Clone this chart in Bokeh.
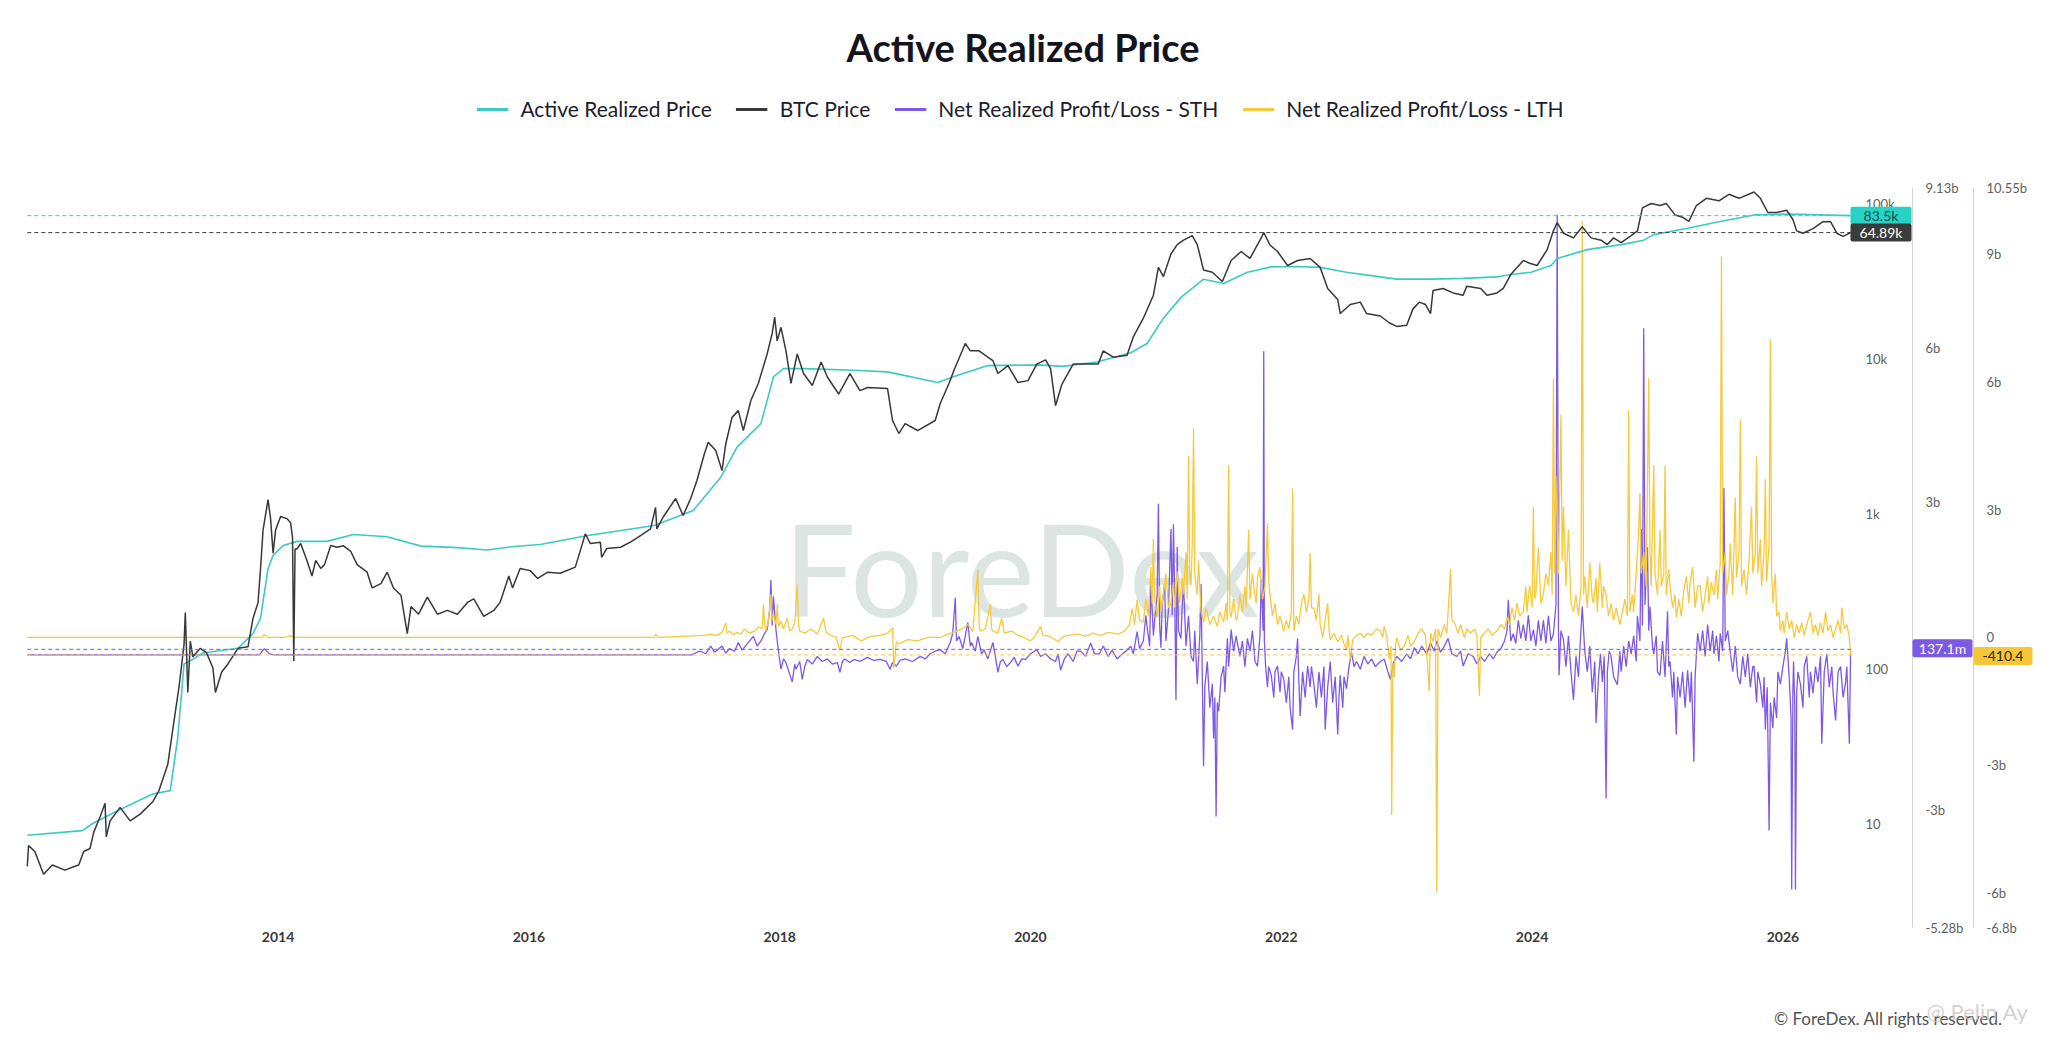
import math
from bokeh.plotting import figure
from bokeh.models import (Range1d, LinearAxis, LinearScale, FixedTicker, Label, Legend, LegendItem,
                          BoxAnnotation)
from bokeh.embed import file_html
from bokeh.resources import INLINE

# ---------------- data ----------------
btc = [(2012.00, 5.3), (2012.01, 7.2), (2012.06, 6.6), (2012.13, 4.7), (2012.20, 5.4), (2012.30, 5.0),
       (2012.38, 5.3), (2012.41, 5.4), (2012.45, 6.6), (2012.50, 6.9), (2012.53, 8.8), (2012.58, 11),
       (2012.62, 13.5), (2012.63, 8.2), (2012.66, 10.4), (2012.74, 12.7), (2012.82, 10.4), (2012.90, 11.5),
       (2013.00, 13.8), (2013.05, 16.3), (2013.12, 24), (2013.17, 46), (2013.21, 76), (2013.25, 143),
       (2013.26, 230), (2013.28, 70), (2013.30, 150), (2013.32, 119), (2013.38, 135), (2013.43, 126),
       (2013.48, 101), (2013.50, 70), (2013.55, 95), (2013.60, 107), (2013.68, 135), (2013.76, 138),
       (2013.80, 211), (2013.84, 266), (2013.86, 442), (2013.88, 782), (2013.92, 1230), (2013.94, 927),
       (2013.96, 555), (2013.98, 782),
       (2014.02, 956), (2014.07, 927), (2014.10, 870), (2014.115, 700), (2014.125, 112), (2014.135, 590),
       (2014.15, 590), (2014.18, 640), (2014.23, 498), (2014.27, 395), (2014.30, 498), (2014.34, 442),
       (2014.37, 468), (2014.42, 622), (2014.47, 605), (2014.52, 620), (2014.58, 569), (2014.63, 468),
       (2014.71, 418), (2014.75, 331), (2014.82, 353), (2014.87, 418), (2014.92, 331), (2014.98, 297),
       (2015.03, 168), (2015.06, 251), (2015.12, 224), (2015.19, 289), (2015.27, 224), (2015.35, 237),
       (2015.43, 224), (2015.51, 267), (2015.56, 281), (2015.64, 217), (2015.72, 237), (2015.77, 267),
       (2015.84, 395), (2015.87, 331), (2015.93, 442),
       (2016.01, 428), (2016.07, 381), (2016.15, 418), (2016.25, 412), (2016.37, 451), (2016.41, 576),
       (2016.45, 740), (2016.49, 640), (2016.57, 653), (2016.58, 522), (2016.62, 594), (2016.73, 606),
       (2016.81, 653), (2016.89, 721), (2016.97, 795),
       (2017.01, 1095), (2017.02, 795), (2017.07, 946), (2017.17, 1250), (2017.23, 970), (2017.29, 1250),
       (2017.34, 1633), (2017.40, 2440), (2017.43, 2880), (2017.49, 2550), (2017.54, 1890), (2017.57, 2820),
       (2017.62, 4170), (2017.67, 4610), (2017.71, 3430), (2017.77, 5360), (2017.83, 6920), (2017.90, 10700),
       (2017.94, 14500), (2017.96, 18500), (2017.98, 13000),
       (2018.01, 15900), (2018.05, 11200), (2018.09, 6920), (2018.14, 10700), (2018.19, 8000), (2018.26, 6700),
       (2018.33, 9500), (2018.38, 7600), (2018.47, 5900), (2018.56, 8000), (2018.64, 6200), (2018.70, 6500),
       (2018.86, 6400), (2018.90, 3980), (2018.95, 3280),
       (2019.00, 3800), (2019.10, 3430), (2019.24, 3980), (2019.28, 5130), (2019.35, 6900), (2019.39, 8400),
       (2019.48, 12500), (2019.52, 11200), (2019.59, 11200), (2019.66, 10200), (2019.70, 9700), (2019.74, 8000),
       (2019.82, 9000), (2019.90, 7000), (2019.98, 7200),
       (2020.05, 9200), (2020.12, 9800), (2020.16, 8600), (2020.20, 4970), (2020.25, 6800), (2020.34, 9200),
       (2020.45, 9200), (2020.54, 9200), (2020.58, 11200), (2020.66, 10200), (2020.77, 10500), (2020.82, 13800),
       (2020.90, 18200), (2020.98, 25600),
       (2021.02, 38700), (2021.06, 33800), (2021.12, 47200), (2021.17, 54300), (2021.22, 58000), (2021.29, 62000),
       (2021.33, 54300), (2021.38, 37200), (2021.45, 36000), (2021.53, 31400), (2021.60, 42900), (2021.68, 49000),
       (2021.75, 44200), (2021.84, 60000), (2021.86, 65000), (2021.91, 54000), (2021.97, 49000),
       (2022.05, 39800), (2022.13, 42900), (2022.23, 44200), (2022.31, 38700), (2022.37, 28300), (2022.45, 24000),
       (2022.47, 19500), (2022.55, 22300), (2022.63, 23100), (2022.68, 19500), (2022.79, 18800), (2022.86, 17000),
       (2022.92, 16100),
       (2023.00, 16400), (2023.05, 20900), (2023.10, 23100), (2023.15, 22300), (2023.19, 19500), (2023.21, 27500),
       (2023.29, 28300), (2023.37, 26500), (2023.45, 25600), (2023.48, 29300), (2023.59, 28300), (2023.64, 25600),
       (2023.72, 26500), (2023.77, 28300), (2023.83, 34800), (2023.93, 42900), (2023.98, 41200),
       (2024.04, 39800), (2024.12, 50400), (2024.17, 66600), (2024.20, 75400), (2024.25, 64300), (2024.33, 60000),
       (2024.40, 70800), (2024.47, 60000), (2024.55, 58000), (2024.60, 54300), (2024.65, 60000), (2024.71, 56000),
       (2024.79, 62000), (2024.84, 66600), (2024.88, 93600), (2024.95, 100000),
       (2025.02, 97000), (2025.07, 100000), (2025.14, 84400), (2025.20, 81600), (2025.25, 76600), (2025.31, 97000),
       (2025.39, 108000), (2025.49, 104000), (2025.57, 114700), (2025.65, 108000), (2025.77, 118600),
       (2025.82, 108000), (2025.88, 87500), (2025.95, 87500),
       (2026.03, 90400), (2026.08, 78900), (2026.11, 66600), (2026.16, 64300), (2026.24, 68800), (2026.32, 76300),
       (2026.38, 76300), (2026.43, 64300), (2026.48, 61300), (2026.54, 64890)]

active_realized = [(2012.00, 8.4), (2012.44, 9.0), (2012.52, 10), (2012.74, 12.3), (2013.00, 15.5), (2013.14, 16.3),
                   (2013.20, 36), (2013.25, 107), (2013.30, 112), (2013.40, 126), (2013.68, 135), (2013.80, 168),
                   (2013.86, 211), (2013.92, 442), (2013.96, 537), (2014.04, 622), (2014.15, 661), (2014.39, 661),
                   (2014.60, 732), (2014.87, 708), (2015.14, 616), (2015.40, 605), (2015.67, 582), (2015.88, 612),
                   (2016.09, 631), (2016.47, 721), (2017.00, 837), (2017.31, 1047), (2017.53, 1713), (2017.66, 2680),
                   (2017.85, 3800), (2017.95, 7600), (2018.03, 8600), (2018.19, 8600), (2018.59, 8400), (2018.86, 8200),
                   (2019.26, 7000), (2019.39, 7650), (2019.66, 9000), (2020.07, 9100), (2020.26, 8900), (2020.53, 9500),
                   (2020.80, 10900), (2020.93, 12500), (2021.06, 18200), (2021.20, 24800), (2021.38, 32500),
                   (2021.54, 30500), (2021.73, 36000), (2021.92, 39000), (2022.13, 39200), (2022.31, 38700),
                   (2022.52, 36000), (2022.79, 33600), (2022.92, 32500), (2023.19, 32500), (2023.45, 32900),
                   (2023.72, 33600), (2023.83, 34800), (2023.99, 36000), (2024.15, 39800), (2024.20, 44200),
                   (2024.44, 50400), (2024.71, 54300), (2024.89, 58000), (2024.97, 63000), (2025.23, 69000),
                   (2025.49, 76300), (2025.77, 84400), (2026.03, 85500), (2026.30, 84400), (2026.54, 83500)]

# Net Realized Profit/Loss, short-term holders (billions USD)
nrpl_sth = [
    (2012.00, 0.03), (2013.85, 0.03), (2013.89, 0.15), (2013.93, 0.05), (2013.97, 0.03), (2017.30, 0.03),
    (2017.34, 0.08), (2017.37, 0.10), (2017.41, 0.05), (2017.45, 0.20), (2017.48, 0.08), (2017.50, 0.12),
    (2017.54, 0.20), (2017.57, 0.06), (2017.60, 0.15), (2017.64, 0.10), (2017.67, 0.27), (2017.70, 0.12),
    (2017.72, 0.18), (2017.76, 0.30), (2017.79, 0.39), (2017.82, 0.20), (2017.85, 0.30), (2017.88, 0.45),
    (2017.90, 0.52), (2017.92, 0.90), (2017.93, 1.49), (2017.94, 0.60), (2017.95, 1.17), (2017.97, 0.52),
    (2017.99, 0.10), (2018.01, -0.25), (2018.03, -0.05), (2018.05, -0.12), (2018.08, -0.35), (2018.10, -0.50),
    (2018.12, -0.15), (2018.13, -0.25), (2018.16, -0.10), (2018.18, -0.45), (2018.20, -0.20), (2018.22, -0.06),
    (2018.26, -0.15), (2018.30, 0.00), (2018.34, -0.10), (2018.38, -0.05), (2018.42, -0.15), (2018.46, -0.12),
    (2018.48, -0.31), (2018.50, -0.10), (2018.52, -0.05), (2018.56, -0.12), (2018.59, -0.06), (2018.64, -0.10),
    (2018.70, -0.02), (2018.75, -0.08), (2018.80, -0.06), (2018.85, -0.10), (2018.88, -0.25), (2018.90, -0.12),
    (2018.93, -0.19), (2018.96, -0.08), (2019.00, -0.05), (2019.06, -0.10), (2019.12, 0.00), (2019.16, -0.05),
    (2019.20, 0.05), (2019.24, 0.10), (2019.28, 0.13), (2019.32, 0.05), (2019.36, 0.27), (2019.38, 0.45),
    (2019.40, 1.14), (2019.41, 0.30), (2019.43, 0.39), (2019.46, 0.15), (2019.48, 0.40), (2019.50, 0.66),
    (2019.52, 0.20), (2019.53, 0.27), (2019.56, 0.10), (2019.58, 0.39), (2019.61, 0.05), (2019.63, 0.13),
    (2019.66, -0.05), (2019.70, 0.27), (2019.72, 0.00), (2019.74, -0.31), (2019.76, -0.10), (2019.78, -0.06),
    (2019.81, -0.20), (2019.84, -0.12), (2019.87, -0.02), (2019.90, -0.19), (2019.93, -0.05), (2019.96, -0.06),
    (2020.00, 0.05), (2020.05, 0.13), (2020.08, 0.00), (2020.12, 0.05), (2020.16, -0.05), (2020.20, -0.10),
    (2020.22, 0.05), (2020.24, -0.27), (2020.27, -0.05), (2020.30, 0.05), (2020.34, -0.10), (2020.37, 0.10),
    (2020.40, 0.10), (2020.44, 0.00), (2020.48, 0.26), (2020.51, 0.05), (2020.55, 0.05), (2020.58, 0.20),
    (2020.62, 0.00), (2020.65, 0.12), (2020.69, -0.05), (2020.72, 0.02), (2020.76, 0.10), (2020.80, 0.20),
    (2020.82, 0.05), (2020.85, 0.48), (2020.87, 0.15), (2020.90, 0.30), (2020.92, 0.80), (2020.93, 0.57),
    (2020.95, 0.20), (2020.96, 1.41), (2020.98, 0.40), (2020.99, 0.70), (2021.01, 1.20), (2021.02, 2.97),
    (2021.03, 0.60), (2021.04, 0.17), (2021.05, 1.00), (2021.07, 1.41), (2021.08, 0.30), (2021.10, 0.90),
    (2021.12, 2.48), (2021.13, 0.80), (2021.14, 2.57), (2021.15, 1.20), (2021.16, -0.85), (2021.17, 2.13),
    (2021.18, 0.50), (2021.20, 0.35), (2021.21, 1.00), (2021.22, 1.41), (2021.24, 0.20), (2021.26, 0.79),
    (2021.28, 0.00), (2021.30, -0.10), (2021.31, 0.50), (2021.33, -0.54), (2021.35, 0.40), (2021.36, 1.41),
    (2021.37, -0.40), (2021.38, -2.14), (2021.39, -0.60), (2021.41, -0.10), (2021.43, -1.00), (2021.45, -0.54),
    (2021.46, -1.60), (2021.47, -0.80), (2021.48, -3.12), (2021.49, -0.90), (2021.50, -1.07), (2021.52, -0.40),
    (2021.54, -0.19), (2021.55, -0.70), (2021.57, 0.35), (2021.58, -0.20), (2021.60, 0.52), (2021.62, 0.10),
    (2021.64, 0.40), (2021.67, 0.00), (2021.69, 0.30), (2021.71, -0.20), (2021.73, 0.35), (2021.75, 0.10),
    (2021.77, 0.50), (2021.79, -0.10), (2021.81, -0.19), (2021.83, 0.40), (2021.84, 1.50), (2021.855, 0.50),
    (2021.86, 5.94), (2021.865, 0.30), (2021.875, -0.19), (2021.89, -0.60), (2021.90, -0.20), (2021.92, -0.37),
    (2021.94, -0.80), (2021.95, -0.30), (2021.97, -0.19), (2021.99, -0.70), (2022.00, -0.30), (2022.02, -0.45),
    (2022.04, -0.90), (2022.06, -0.40), (2022.07, -1.00), (2022.09, -1.43), (2022.10, -0.30), (2022.12, 0.00),
    (2022.13, 0.35), (2022.14, -0.50), (2022.15, -1.16), (2022.17, -0.30), (2022.19, -0.80), (2022.21, -0.19),
    (2022.23, -0.60), (2022.24, -0.20), (2022.26, -0.54), (2022.28, -1.00), (2022.30, -0.30), (2022.32, -0.80),
    (2022.34, -0.20), (2022.35, -1.43), (2022.37, -0.60), (2022.39, -0.10), (2022.41, -0.90), (2022.43, -0.40),
    (2022.45, -1.52), (2022.46, -0.80), (2022.47, -0.37), (2022.49, -1.00), (2022.50, -0.40), (2022.52, -0.63),
    (2022.54, -0.20), (2022.56, 0.08), (2022.58, -0.20), (2022.60, -0.10), (2022.63, -0.25), (2022.66, 0.00),
    (2022.69, -0.15), (2022.72, -0.05), (2022.75, -0.20), (2022.79, -0.10), (2022.82, -0.05), (2022.85, -0.30),
    (2022.87, -0.45), (2022.89, -0.15), (2022.92, 0.00), (2022.96, -0.10), (2023.00, 0.05), (2023.03, -0.05),
    (2023.06, 0.17), (2023.09, 0.05), (2023.12, 0.20), (2023.16, 0.05), (2023.19, 0.26), (2023.22, 0.10),
    (2023.24, 0.30), (2023.27, 0.08), (2023.30, 0.20), (2023.33, 0.35), (2023.36, 0.05), (2023.40, 0.00),
    (2023.43, 0.10), (2023.45, -0.19), (2023.49, 0.05), (2023.53, 0.00), (2023.56, -0.15), (2023.59, 0.00),
    (2023.62, -0.10), (2023.66, 0.05), (2023.69, -0.05), (2023.72, 0.08), (2023.75, 0.15), (2023.78, 0.30),
    (2023.80, 0.50), (2023.81, 1.10), (2023.83, 0.30), (2023.85, 0.44), (2023.87, 0.25), (2023.89, 0.70),
    (2023.91, 0.35), (2023.93, 0.62), (2023.95, 0.30), (2023.97, 0.80), (2023.99, 0.30), (2024.01, 0.52),
    (2024.03, 0.20), (2024.05, 0.70), (2024.07, 0.30), (2024.09, 0.70), (2024.11, 0.25), (2024.13, 0.79),
    (2024.15, 0.30), (2024.17, 0.44), (2024.19, 1.00), (2024.20, 8.60), (2024.21, 0.60), (2024.215, -0.37),
    (2024.23, 0.50), (2024.25, 0.33), (2024.27, -0.20), (2024.29, 0.40), (2024.31, -0.30), (2024.33, -0.85),
    (2024.35, 0.00), (2024.37, -0.40), (2024.38, 0.10), (2024.40, 0.97), (2024.42, 0.10), (2024.44, -0.30),
    (2024.46, 0.20), (2024.48, -0.70), (2024.50, -0.10), (2024.51, -1.30), (2024.53, -0.40), (2024.545, 0.05),
    (2024.56, -0.50), (2024.575, 0.00), (2024.59, -2.77), (2024.60, -0.30), (2024.615, 0.10), (2024.63, 0.00),
    (2024.65, -0.40), (2024.68, -0.55), (2024.70, 0.10), (2024.71, -0.30), (2024.73, 0.20), (2024.75, -0.20),
    (2024.77, 0.30), (2024.79, 0.05), (2024.81, 0.40), (2024.83, -0.10), (2024.84, 0.79), (2024.86, 0.30),
    (2024.87, 2.48), (2024.88, 0.60), (2024.89, 6.39), (2024.90, 1.00), (2024.92, 2.13), (2024.93, 0.50),
    (2024.94, 0.97), (2024.96, 0.20), (2024.97, 0.05), (2024.99, 0.40), (2025.00, -0.30), (2025.02, -0.37),
    (2025.04, 0.30), (2025.06, -0.40), (2025.08, 0.88), (2025.09, -0.20), (2025.10, -0.10), (2025.12, -0.80),
    (2025.13, -0.30), (2025.15, -1.52), (2025.16, -0.40), (2025.18, -0.80), (2025.20, -0.30), (2025.22, -1.00),
    (2025.24, -0.27), (2025.26, -0.90), (2025.27, -0.30), (2025.29, -2.05), (2025.30, -0.40), (2025.32, 0.45),
    (2025.34, 0.10), (2025.36, 0.50), (2025.38, 0.00), (2025.40, 0.62), (2025.42, 0.10), (2025.44, 0.50),
    (2025.45, 0.05), (2025.47, 0.40), (2025.49, -0.10), (2025.50, 0.45), (2025.52, 0.10), (2025.53, 3.28),
    (2025.54, 0.30), (2025.56, 0.50), (2025.58, 0.08), (2025.60, -0.30), (2025.62, 0.20), (2025.64, -0.40),
    (2025.66, -0.54), (2025.68, 0.00), (2025.70, -0.40), (2025.72, 0.05), (2025.74, -0.60), (2025.76, -0.20),
    (2025.77, -0.19), (2025.79, -0.90), (2025.80, -0.30), (2025.82, -0.54), (2025.84, -1.00), (2025.85, -0.40),
    (2025.86, -1.43), (2025.875, -0.60), (2025.89, -3.39), (2025.90, -0.90), (2025.92, -1.40), (2025.93, -0.80),
    (2025.95, -1.20), (2025.96, -0.30), (2025.98, -0.54), (2026.00, -0.20), (2026.02, 0.10), (2026.03, 0.35),
    (2026.05, -0.40), (2026.065, -1.20), (2026.07, -4.54), (2026.08, -0.60), (2026.085, -0.10), (2026.095, -1.00),
    (2026.10, -4.54), (2026.11, -0.70), (2026.12, -0.30), (2026.14, -0.54), (2026.16, -1.00), (2026.17, -0.20),
    (2026.19, 0.00), (2026.21, -0.80), (2026.22, -0.30), (2026.24, -0.72), (2026.26, -0.20), (2026.28, -0.50),
    (2026.30, 0.00), (2026.31, -1.70), (2026.33, -0.30), (2026.35, 0.05), (2026.37, -0.60), (2026.39, -0.20),
    (2026.40, -0.70), (2026.42, -1.25), (2026.44, -0.30), (2026.46, -0.20), (2026.48, -0.80), (2026.50, -0.50),
    (2026.51, -0.20), (2026.53, -1.70), (2026.54, 0.1371)]

# Net Realized Profit/Loss, long-term holders (billions USD)
nrpl_lth = [
    (2012.00, 0.00), (2013.87, 0.00), (2013.89, 0.07), (2013.92, 0.00), (2014.05, 0.00), (2014.10, 0.04),
    (2014.14, 0.00), (2017.00, 0.00), (2017.01, 0.08), (2017.03, 0.00), (2017.40, 0.05), (2017.45, 0.08),
    (2017.50, 0.05), (2017.54, 0.12), (2017.57, 0.34), (2017.58, 0.10), (2017.60, 0.15), (2017.63, 0.06),
    (2017.66, 0.12), (2017.69, 0.08), (2017.72, 0.20), (2017.76, 0.10), (2017.80, 0.15), (2017.83, 0.25),
    (2017.86, 0.20), (2017.87, 0.78), (2017.88, 0.30), (2017.89, 0.15), (2017.91, 0.40), (2017.93, 1.01),
    (2017.94, 0.40), (2017.95, 0.54), (2017.97, 0.30), (2017.98, 0.78), (2017.99, 0.25), (2018.01, 0.38),
    (2018.03, 0.20), (2018.06, 0.45), (2018.08, 0.15), (2018.10, 0.20), (2018.12, 0.35), (2018.14, 1.25),
    (2018.15, 0.30), (2018.16, 0.15), (2018.20, 0.10), (2018.25, 0.20), (2018.30, 0.08), (2018.35, 0.45),
    (2018.37, 0.12), (2018.41, 0.05), (2018.45, 0.00), (2018.48, -0.30), (2018.50, 0.00), (2018.52, 0.00),
    (2018.58, 0.05), (2018.65, -0.08), (2018.72, 0.02), (2018.80, 0.05), (2018.86, 0.10), (2018.90, 0.22),
    (2018.91, -0.72), (2018.93, -0.10), (2018.95, -0.15), (2019.02, -0.05), (2019.10, -0.08), (2019.18, 0.00),
    (2019.28, 0.00), (2019.34, 0.08), (2019.39, 0.12), (2019.45, 0.20), (2019.50, 0.30), (2019.54, 0.15),
    (2019.58, 1.60), (2019.59, 0.30), (2019.60, 0.15), (2019.64, 0.20), (2019.68, 0.78), (2019.69, 0.20),
    (2019.70, 0.15), (2019.74, 0.10), (2019.77, 0.45), (2019.79, 0.10), (2019.85, 0.15), (2019.90, 0.05),
    (2019.95, 0.00), (2020.00, -0.08), (2020.04, 0.05), (2020.08, 0.26), (2020.10, 0.05), (2020.12, 0.05),
    (2020.17, 0.00), (2020.22, -0.10), (2020.26, 0.02), (2020.30, 0.05), (2020.38, 0.08), (2020.44, 0.03),
    (2020.50, 0.10), (2020.56, 0.05), (2020.62, 0.12), (2020.70, 0.08), (2020.75, 0.15), (2020.79, 0.30),
    (2020.81, 0.68), (2020.83, 0.30), (2020.85, 0.89), (2020.87, 0.40), (2020.90, 0.36), (2020.92, 0.90),
    (2020.94, 0.50), (2020.96, 1.65), (2020.97, 0.80), (2020.98, 2.30), (2020.99, 0.90), (2021.01, 0.47),
    (2021.03, 1.20), (2021.04, 0.60), (2021.06, 1.01), (2021.08, 1.50), (2021.10, 0.70), (2021.12, 0.80),
    (2021.14, 1.30), (2021.15, 0.70), (2021.17, 1.55), (2021.19, 0.80), (2021.21, 1.40), (2021.22, 1.01),
    (2021.24, 2.00), (2021.25, 0.90), (2021.26, 4.25), (2021.27, 1.50), (2021.28, 1.22), (2021.29, 2.20),
    (2021.30, 4.90), (2021.31, 1.50), (2021.33, 1.01), (2021.34, 1.80), (2021.36, 0.60), (2021.38, 0.36),
    (2021.40, 0.70), (2021.43, 0.30), (2021.46, 0.50), (2021.49, 0.26), (2021.51, 0.60), (2021.54, 0.36),
    (2021.56, 0.80), (2021.57, 0.40), (2021.58, 4.03), (2021.59, 0.60), (2021.60, 0.47), (2021.62, 0.90),
    (2021.64, 0.40), (2021.65, 0.47), (2021.67, 1.00), (2021.69, 0.60), (2021.71, 1.20), (2021.72, 0.70),
    (2021.74, 2.52), (2021.75, 0.90), (2021.77, 1.50), (2021.78, 1.22), (2021.80, 0.80), (2021.81, 1.40),
    (2021.83, 1.65), (2021.85, 0.90), (2021.87, 1.20), (2021.89, 2.68), (2021.90, 1.30), (2021.91, 1.01),
    (2021.93, 0.50), (2021.95, 0.80), (2021.97, 0.30), (2021.99, 0.50), (2022.02, 0.15), (2022.04, 0.40),
    (2022.06, 0.20), (2022.08, 0.60), (2022.09, 3.49), (2022.10, 0.15), (2022.12, 0.50), (2022.14, 0.30),
    (2022.16, 0.80), (2022.18, 1.01), (2022.20, 0.60), (2022.22, 0.90), (2022.23, 1.98), (2022.24, 0.70),
    (2022.26, 0.68), (2022.28, 0.40), (2022.30, 1.01), (2022.31, 0.30), (2022.33, 0.00), (2022.35, 0.40),
    (2022.37, 0.80), (2022.38, 0.20), (2022.39, -0.05), (2022.42, 0.10), (2022.45, -0.10), (2022.48, 0.05),
    (2022.50, -0.15), (2022.52, -0.29), (2022.53, 0.05), (2022.55, -0.50), (2022.57, -0.05), (2022.60, 0.05),
    (2022.63, 0.10), (2022.66, 0.00), (2022.69, 0.10), (2022.72, 0.05), (2022.76, 0.20), (2022.79, 0.15),
    (2022.81, 0.00), (2022.82, 0.26), (2022.84, 0.05), (2022.86, -0.50), (2022.875, -0.20), (2022.88, -4.16),
    (2022.89, -0.60), (2022.90, -0.93), (2022.91, -0.20), (2022.92, 0.00), (2022.95, -0.30), (2022.98, -0.20),
    (2023.01, 0.05), (2023.03, -0.20), (2023.06, -0.10), (2023.09, 0.10), (2023.12, 0.20), (2023.15, 0.05),
    (2023.18, -1.26), (2023.19, 0.10), (2023.21, -0.10), (2023.23, 0.20), (2023.24, -5.97), (2023.25, 0.20),
    (2023.27, 0.00), (2023.30, 0.30), (2023.32, 0.10), (2023.35, 1.60), (2023.36, 0.40), (2023.38, 0.36),
    (2023.41, 0.10), (2023.43, 0.30), (2023.46, 0.00), (2023.48, 0.20), (2023.51, 0.10), (2023.54, 0.20),
    (2023.56, 0.05), (2023.58, -1.37), (2023.59, 0.00), (2023.62, 0.10), (2023.65, 0.20), (2023.68, 0.05),
    (2023.72, 0.15), (2023.75, 0.30), (2023.78, 0.20), (2023.80, 0.47), (2023.82, 0.30), (2023.84, 0.70),
    (2023.86, 0.40), (2023.88, 0.80), (2023.90, 0.50), (2023.93, 0.60), (2023.95, 1.20), (2023.96, 0.60),
    (2023.98, 1.22), (2024.00, 0.70), (2024.01, 3.06), (2024.02, 0.90), (2024.03, 1.01), (2024.04, 1.60),
    (2024.05, 2.10), (2024.07, 0.80), (2024.09, 1.01), (2024.11, 1.50), (2024.13, 1.22), (2024.15, 2.00),
    (2024.16, 1.00), (2024.17, 6.08), (2024.18, 1.50), (2024.19, 3.80), (2024.21, 1.50), (2024.23, 5.22),
    (2024.24, 1.80), (2024.25, 3.06), (2024.27, 1.20), (2024.29, 2.52), (2024.31, 0.80), (2024.33, 0.60),
    (2024.35, 1.00), (2024.37, 0.50), (2024.39, 1.20), (2024.40, 9.76), (2024.41, 1.00), (2024.42, 1.43),
    (2024.44, 0.70), (2024.46, 1.75), (2024.48, 0.90), (2024.49, 0.80), (2024.51, 1.40), (2024.52, 0.60),
    (2024.54, 1.75), (2024.56, 0.70), (2024.57, 1.20), (2024.59, 1.00), (2024.61, 0.50), (2024.63, 0.80),
    (2024.65, 0.40), (2024.67, 0.70), (2024.70, 0.30), (2024.72, 0.60), (2024.74, 0.90), (2024.76, 0.50),
    (2024.77, 5.33), (2024.78, 0.60), (2024.80, 1.00), (2024.81, 0.60), (2024.83, 1.50), (2024.85, 2.50),
    (2024.86, 3.39), (2024.87, 1.50), (2024.89, 2.00), (2024.91, 1.20), (2024.93, 6.08), (2024.94, 2.00),
    (2024.95, 1.20), (2024.97, 4.04), (2024.98, 1.50), (2025.00, 1.00), (2025.02, 2.52), (2025.03, 1.20),
    (2025.05, 1.50), (2025.06, 4.04), (2025.07, 1.00), (2025.09, 1.60), (2025.10, 1.22), (2025.12, 0.70),
    (2025.14, 1.00), (2025.15, 0.47), (2025.17, 0.90), (2025.19, 0.50), (2025.21, 1.10), (2025.23, 1.43),
    (2025.25, 0.80), (2025.26, 1.30), (2025.28, 1.65), (2025.30, 0.70), (2025.32, 1.20), (2025.34, 1.22),
    (2025.36, 0.60), (2025.38, 1.00), (2025.40, 1.43), (2025.41, 0.80), (2025.43, 1.30), (2025.45, 1.00),
    (2025.47, 1.60), (2025.48, 0.90), (2025.50, 1.75), (2025.51, 8.94), (2025.52, 1.50), (2025.54, 2.00),
    (2025.55, 1.00), (2025.57, 1.50), (2025.58, 2.20), (2025.60, 1.00), (2025.62, 3.28), (2025.63, 1.40),
    (2025.65, 2.00), (2025.66, 5.11), (2025.67, 1.20), (2025.69, 1.60), (2025.71, 1.00), (2025.73, 1.80),
    (2025.75, 3.06), (2025.76, 1.50), (2025.78, 2.00), (2025.79, 4.25), (2025.80, 1.50), (2025.82, 2.30),
    (2025.83, 1.20), (2025.85, 2.00), (2025.86, 3.71), (2025.87, 1.30), (2025.89, 2.20), (2025.90, 7.00),
    (2025.91, 1.50), (2025.92, 0.80), (2025.94, 1.50), (2025.95, 0.50), (2025.97, 0.60), (2025.98, 0.15),
    (2026.00, 0.40), (2026.01, 0.10), (2026.03, 0.60), (2026.05, 0.20), (2026.07, 0.40), (2026.09, 0.00),
    (2026.11, 0.30), (2026.13, 0.10), (2026.15, 0.35), (2026.17, 0.05), (2026.19, 0.30), (2026.22, 0.60),
    (2026.24, 0.10), (2026.26, 0.30), (2026.28, 0.05), (2026.30, 0.35), (2026.32, 0.10), (2026.34, 0.60),
    (2026.36, 0.15), (2026.38, 0.30), (2026.40, 0.00), (2026.42, 0.20), (2026.44, 0.40), (2026.46, 0.10),
    (2026.47, 0.70), (2026.49, 0.20), (2026.51, 0.30), (2026.53, 0.00), (2026.54, -0.4104)]

year_ticks = [2014, 2016, 2018, 2020, 2022, 2024, 2026]
year_labels = ["2014", "2016", "2018", "2020", "2022", "2024", "2026"]
price_ticks = [10, 100, 1000, 10000, 100000]
price_labels = ["10", "100", "1k", "10k", "100k"]
sth_ticks = [-5.28, -3, 3, 6, 9.13]
sth_labels = ["-5.28b", "-3b", "3b", "6b", "9.13b"]
lth_ticks = [-6.8, -6, -3, 0, 3, 6, 9, 10.55]
lth_labels = ["-6.8b", "-6b", "-3b", "0", "3b", "6b", "9b", "10.55b"]
sth_bounds = (-5.28, 9.13)
lth_bounds = (-6.8, 10.55)

series_names = ["Active Realized Price", "BTC Price",
                "Net Realized Profit/Loss - STH", "Net Realized Profit/Loss - LTH"]
title_text = "Active Realized Price"
footer_text = "© ForeDex. All rights reserved."
watermark_text = "ForeDex"
repost_text = "@ Pelin Ay"

# ---------------- layout (pixels of the 2040 x 1032 canvas) ----------------
W, H = 2040, 1032
PLOT_TOP, PLOT_BOTTOM = 187, 927          # vertical extent of the value axes
PLOT_RIGHT = 1855                          # right end of the data area
STH_AXIS_X, LTH_AXIS_X = 1912, 1973        # the two separator axis lines
TAG_LEFT, TAG_RIGHT = 1850, 2032           # last-value tag columns
YEAR_PX, YEAR2014_PX = 125.4, 277.6        # x scale of the time axis
DECADE_PX, P100K_PX = 155.0, 203.0         # log price scale
TAG_HALF_H = 9

def year_at(px):
    return 2014 + (px - YEAR2014_PX) / YEAR_PX

def price_at(py):
    return 10 ** (5 - (py - P100K_PX) / DECADE_PX)

def py_of_price(v):
    return P100K_PX - DECADE_PX * (math.log10(v) - 5)

def lin_at(py, lo, hi):
    return hi - (py - PLOT_TOP) * (hi - lo) / (PLOT_BOTTOM - PLOT_TOP)

def py_of_lin(v, lo, hi):
    return PLOT_TOP + (hi - v) * (PLOT_BOTTOM - PLOT_TOP) / (hi - lo)

# ---------------- style ----------------
FONT = "Lato"
TEAL = "#3ccbc2"
TEAL_BOX = "#27d3c6"
DARK = "#383838"
PURPLE = "#7d5ae6"
YELLOW = "#f6ca3f"
AXIS_TXT = "#5f5f5f"

btc_t, btc_v = zip(*btc)
arp_t, arp_v = zip(*active_realized)
sth_t, sth_b = zip(*nrpl_sth)
lth_t, lth_b = zip(*nrpl_lth)
sth_v = [v * 1e9 for v in sth_b]
lth_v = [v * 1e9 for v in lth_b]

p = figure(width=W, height=H,
           x_range=Range1d(year_at(0), year_at(W)),
           y_range=Range1d(price_at(H), price_at(0)),
           y_axis_type="log", y_axis_location="right",
           output_backend="svg", toolbar_location=None,
           min_border=0, min_border_left=0, min_border_right=0, min_border_top=0, min_border_bottom=0,
           outline_line_color=None, background_fill_color="white", border_fill_color="white")
p.extra_y_ranges = {"sth": Range1d(lin_at(H, *sth_bounds) * 1e9, lin_at(0, *sth_bounds) * 1e9),
                    "lth": Range1d(lin_at(H, *lth_bounds) * 1e9, lin_at(0, *lth_bounds) * 1e9)}
p.extra_y_scales = {"sth": LinearScale(), "lth": LinearScale()}
p.xgrid.visible = False
p.ygrid.visible = False

# watermark behind the data
p.add_layout(Label(x=year_at(1021), y=price_at(567), text=watermark_text, text_align="center",
                   text_baseline="middle", text_font=FONT, text_font_size="128px",
                   text_color="#dde5e2", level="underlay"))

# series
p.line(sth_t, sth_v, y_range_name="sth", line_color=PURPLE, line_width=1.3)
p.line(lth_t, lth_v, y_range_name="lth", line_color=YELLOW, line_width=1.3)
p.line(arp_t, arp_v, line_color=TEAL, line_width=1.6)
p.line(btc_t, btc_v, line_color=DARK, line_width=1.5)

# last-value price lines (dashed, across the data span)
span_x = [btc_t[0], btc_t[-1]]
p.line(span_x, [arp_v[-1]] * 2, line_color=TEAL, line_dash="4 3", line_width=1)
p.line(span_x, [btc_v[-1]] * 2, line_color=DARK, line_dash="4 3", line_width=1)
p.line(span_x, [sth_v[-1]] * 2, y_range_name="sth", line_color=PURPLE, line_dash="4 3", line_width=1)
p.line(span_x, [lth_v[-1]] * 2, y_range_name="lth", line_color=YELLOW, line_dash="4 3", line_width=1)

# ---------------- axes ----------------
def style_axis(ax, standoff):
    ax.major_tick_line_color = None
    ax.minor_tick_line_color = None
    ax.major_tick_out = 0
    ax.major_tick_in = 0
    ax.major_label_standoff = standoff
    ax.major_label_text_font = FONT
    ax.major_label_text_font_size = "13px"
    ax.major_label_text_color = AXIS_TXT

pax = p.yaxis[0]
pax.ticker = FixedTicker(ticks=price_ticks, minor_ticks=[])
pax.major_label_overrides = dict(zip(price_ticks, price_labels))
pax.axis_line_color = None
pax.fixed_location = year_at(PLOT_RIGHT)
style_axis(pax, 10)

def side_axis(name, ticks, labels, bounds, px):
    ax = LinearAxis(y_range_name=name, ticker=FixedTicker(ticks=[t * 1e9 for t in ticks], minor_ticks=[]),
                    major_label_overrides={t * 1e9: l for t, l in zip(ticks, labels)},
                    bounds=(bounds[0] * 1e9, bounds[1] * 1e9), fixed_location=year_at(px),
                    axis_line_color="#d4d4d4", axis_line_width=1)
    style_axis(ax, 13)
    p.add_layout(ax, "right")

side_axis("sth", sth_ticks, sth_labels, sth_bounds, STH_AXIS_X)
side_axis("lth", lth_ticks, lth_labels, lth_bounds, LTH_AXIS_X)

xax = p.xaxis[0]
xax.ticker = FixedTicker(ticks=year_ticks, minor_ticks=[])
xax.major_label_overrides = dict(zip(year_ticks, year_labels))
xax.axis_line_color = None
xax.fixed_location = price_at(PLOT_BOTTOM)
style_axis(xax, 4)
xax.major_label_text_font_style = "bold"
xax.major_label_text_font_size = "14px"
xax.major_label_text_color = "#3a3a3a"

# ---------------- texts ----------------
p.add_layout(Label(x=year_at(1022.5), y=price_at(46), text=title_text, text_align="center",
                   text_baseline="middle", text_font=FONT, text_font_size="38px",
                   text_font_style="bold", text_color="#14141f"))

p.add_layout(Label(x=year_at(2002), y=price_at(1018), text=footer_text, text_align="right",
                   text_baseline="middle", text_font=FONT, text_font_size="17px", text_color="#555555"))
p.add_layout(Label(x=year_at(1926), y=price_at(1011), text=repost_text, text_align="left",
                   text_baseline="middle", text_font=FONT, text_font_size="22px", text_color="#c4c4c4",
                   text_alpha=0.75))

colors = [TEAL, DARK, PURPLE, YELLOW]
items = []
for name, c in zip(series_names, colors):
    # legend swatch renderer: one undefined (NaN) point, so nothing is drawn on the chart
    r = p.line(x=[float("nan")], y=[float("nan")], line_color=c, line_width=3)
    items.append(LegendItem(label=name, renderers=[r]))
legend = Legend(items=items, orientation="horizontal", location="top_center", margin=96,
                label_text_font=FONT, label_text_font_size="21px", label_text_color="#1d1d2b",
                glyph_width=32, glyph_height=20, label_standoff=12, spacing=24,
                padding=0, border_line_color=None, background_fill_alpha=0)
p.add_layout(legend, "center")

# last value tags: coloured box + text, in the axis columns, centred on the last value
def tag(py, x0, x1, text, bg, fg):
    p.add_layout(BoxAnnotation(left=year_at(x0), right=year_at(x1),
                               bottom=price_at(py + TAG_HALF_H), top=price_at(py - TAG_HALF_H),
                               fill_color=bg, fill_alpha=1.0, line_color=None, border_radius=2))
    p.add_layout(Label(x=year_at((x0 + x1) / 2), y=price_at(py), text=text, text_align="center",
                       text_baseline="middle", text_font=FONT, text_font_size="14px", text_color=fg))

tag(py_of_price(arp_v[-1]), TAG_LEFT, STH_AXIS_X - 1, f"{arp_v[-1] / 1000:.1f}k", TEAL_BOX, "#0b4743")
tag(py_of_price(btc_v[-1]), TAG_LEFT, STH_AXIS_X - 1, f"{btc_v[-1] / 1000:.2f}k", "#3b3b3b", "white")
tag(py_of_lin(sth_b[-1], *sth_bounds) - 1, STH_AXIS_X, LTH_AXIS_X - 1,
    f"{sth_b[-1] * 1000:.1f}m", PURPLE, "white")
tag(py_of_lin(lth_b[-1], *lth_bounds) + 1, LTH_AXIS_X, TAG_RIGHT,
    f"{lth_b[-1] * 1000:.1f}", "#f5c736", "#2b2200")

open("out.html", "w").write(file_html(p, INLINE))
